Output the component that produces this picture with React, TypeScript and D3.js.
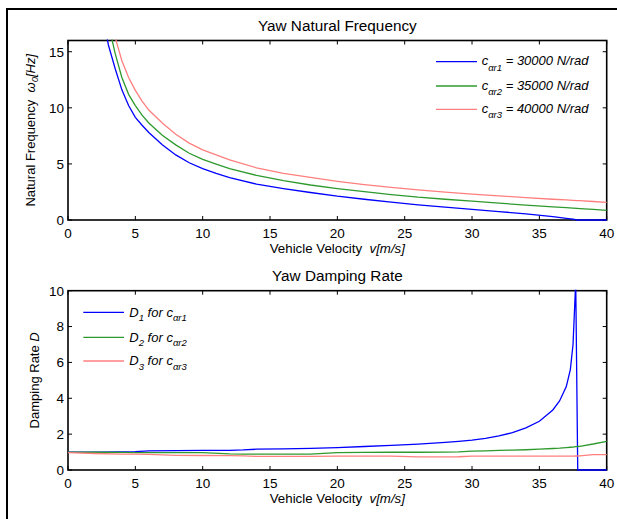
import React from 'react';
import * as d3 from 'd3';

// ---------- data ----------
const velocityFreq = [2.5, 3, 3.5, 4, 4.5, 5, 5.5, 6, 7, 8, 9, 10, 11, 12, 14, 16, 18, 20, 22, 24, 26, 28, 30, 32, 34, 36, 37, 37.5, 37.8, 38, 39, 40];
const freqC1 = [18.8, 15.6, 13.5, 11.6, 10.2, 9.15, 8.45, 7.8, 6.7, 5.8, 5.1, 4.58, 4.15, 3.78, 3.2, 2.8, 2.45, 2.12, 1.85, 1.6, 1.35, 1.15, 0.95, 0.75, 0.55, 0.3, 0.15, 0.08, 0, 0, 0, 0];
const freqC2 = [22, 17.5, 14.85, 12.7, 11.2, 10.2, 9.35, 8.65, 7.55, 6.7, 5.95, 5.4, 4.98, 4.58, 3.98, 3.5, 3.12, 2.8, 2.52, 2.27, 2.03, 1.85, 1.68, 1.5, 1.33, 1.17, 1.1, 1.06, 1.04, 1.02, 0.94, 0.86];
const freqC3 = [25, 19.5, 16.3, 14.2, 12.7, 11.55, 10.6, 9.8, 8.65, 7.65, 6.85, 6.25, 5.8, 5.35, 4.65, 4.15, 3.8, 3.45, 3.15, 2.9, 2.68, 2.48, 2.3, 2.15, 2.0, 1.85, 1.79, 1.75, 1.73, 1.72, 1.65, 1.58];

const velocityDamp = [0, 2, 4, 5, 6, 8, 10, 12, 13, 14, 16, 18, 20, 22, 24, 26, 28, 29, 30, 31, 32, 33, 34, 35, 36, 36.5, 37, 37.3, 37.5, 37.7, 37.85, 38, 39, 40];
const dampD1 = [1.0, 1.0, 1.01, 1.02, 1.07, 1.08, 1.09, 1.1, 1.12, 1.16, 1.18, 1.21, 1.25, 1.31, 1.37, 1.44, 1.54, 1.6, 1.67, 1.76, 1.9, 2.08, 2.35, 2.72, 3.35, 3.85, 4.65, 5.6, 7.0, 10.5, 0, 0, 0, 0];
const dampD2 = [1.0, 0.99, 0.98, 0.97, 0.97, 0.97, 0.97, 0.9, 0.89, 0.89, 0.89, 0.89, 0.97, 0.98, 0.99, 0.99, 1.0, 1.01, 1.05, 1.07, 1.09, 1.11, 1.13, 1.16, 1.2, 1.22, 1.25, 1.27, 1.28, 1.3, 1.31, 1.32, 1.45, 1.6];
const dampD3 = [0.97, 0.92, 0.89, 0.88, 0.87, 0.82, 0.81, 0.8, 0.79, 0.76, 0.76, 0.76, 0.77, 0.77, 0.77, 0.73, 0.73, 0.74, 0.77, 0.77, 0.77, 0.77, 0.77, 0.77, 0.77, 0.77, 0.77, 0.77, 0.77, 0.78, 0.78, 0.79, 0.86, 0.86];

const xTicks = [0, 5, 10, 15, 20, 25, 30, 35, 40];
const freqTicks = [0, 5, 10, 15];
const dampTicks = [0, 2, 4, 6, 8, 10];
const stiffnessValues = ['30000', '35000', '40000'];
const seriesIndex = ['1', '2', '3'];
const seriesColors = ['#0000ff', '#2e9a2e', '#ff7f7f'];

const FONT = "'Liberation Sans', Arial, Helvetica, sans-serif";
const X0 = 68;
const X1 = 606.7;

type PanelProps = {
  id: string;
  top: number;
  bottom: number;
  yMax: number;
  yTicks: number[];
  xs: number[];
  series: number[][];
  title: string;
  children?: React.ReactNode;
};

function Panel({ id, top, bottom, yMax, yTicks, xs, series, title, children }: PanelProps) {
  const x = d3.scaleLinear().domain([0, 40]).range([X0, X1]);
  const y = d3.scaleLinear().domain([0, yMax]).range([bottom, top]);
  const tickLen = 4;
  return (
    <g>
      <defs>
        <clipPath id={id}>
          <rect x={X0 - 1} y={top - 1} width={X1 - X0 + 2} height={bottom - top + 2} />
        </clipPath>
      </defs>
      <text x={(X0 + X1) / 2} y={top - 10} textAnchor="middle" fontSize={15.3} fontFamily={FONT} fill="#000">
        {title}
      </text>
      {/* ticks */}
      {xTicks.map((t) => (
        <g key={'x' + t}>
          <line x1={x(t)} x2={x(t)} y1={bottom} y2={bottom - tickLen} stroke="#000" strokeWidth={1} />
          <line x1={x(t)} x2={x(t)} y1={top} y2={top + tickLen} stroke="#000" strokeWidth={1} />
          <text x={x(t)} y={bottom + 17.5} textAnchor="middle" fontSize={13.5} fontFamily={FONT} fill="#000">
            {t}
          </text>
        </g>
      ))}
      {yTicks.map((t) => (
        <g key={'y' + t}>
          <line x1={X0} x2={X0 + tickLen} y1={y(t)} y2={y(t)} stroke="#000" strokeWidth={1} />
          <line x1={X1} x2={X1 - tickLen} y1={y(t)} y2={y(t)} stroke="#000" strokeWidth={1} />
          <text x={64} y={y(t) + 4.8} textAnchor="end" fontSize={13.5} fontFamily={FONT} fill="#000">
            {t}
          </text>
        </g>
      ))}
      <rect x={X0} y={top} width={X1 - X0} height={bottom - top} fill="none" stroke="#000" strokeWidth={1.6} />
      <g clipPath={`url(#${id})`}>
        {series.map((vals, i) => {
          const line = d3
            .line<number>()
            .x((_, j) => x(xs[j]))
            .y((d) => y(d));
          return <path key={i} d={line(vals) || ''} fill="none" stroke={seriesColors[i]} strokeWidth={1.3} />;
        })}
      </g>
      <text x={(X0 + X1) / 2} y={bottom + 33} textAnchor="middle" fontSize={13.3} fontFamily={FONT} fill="#000">
        {'Vehicle Velocity\u00a0 '}
        <tspan fontStyle="italic">v[m/s]</tspan>
      </text>
      {children}
    </g>
  );
}

export default function App() {
  const topTop = 40.5;
  const topBottom = 220;
  const botTop = 290.7;
  const botBottom = 470;
  const legendTopYs = [61.7, 86, 109.3];
  const legendBotYs = [312.3, 337.3, 361];
  return (
    <svg
      width={617}
      height={519}
      viewBox="0 0 617 519"
      style={{ position: 'absolute', left: 0, top: 0, background: '#fff' }}
    >
      <rect x={0} y={0} width={617} height={519} fill="#fff" />
      <line x1={6} y1={9} x2={617} y2={9} stroke="#000" strokeWidth={2} />
      <line x1={7} y1={8} x2={7} y2={519} stroke="#000" strokeWidth={2} />

      <Panel
        id="clipTop"
        top={topTop}
        bottom={topBottom}
        yMax={16}
        yTicks={freqTicks}
        xs={velocityFreq}
        series={[freqC1, freqC2, freqC3]}
        title="Yaw Natural Frequency"
      >
        <text
          transform={`translate(34.7, ${(topTop + topBottom) / 2}) rotate(-90)`}
          textAnchor="middle"
          fontSize={13}
          fontFamily={FONT}
          fill="#000"
        >
          {'Natural Frequency\u00a0 '}
          <tspan fontStyle="italic">ω</tspan>
          <tspan fontStyle="italic" fontSize={9.5} dy={3}>0</tspan>
          <tspan fontStyle="italic" dy={-3}>[Hz]</tspan>
        </text>
        {legendTopYs.map((ly, i) => (
          <g key={i}>
            <line x1={436} x2={477} y1={ly} y2={ly} stroke={seriesColors[i]} strokeWidth={1.3} />
            <text x={481.7} y={ly + 3.5} fontSize={13} fontFamily={FONT} fontStyle="italic" fill="#000">
              c
              <tspan fontSize={9.5} dy={5.5}>{'αr' + seriesIndex[i]}</tspan>
              <tspan dy={-5.5}>{' = ' + stiffnessValues[i] + ' N/rad'}</tspan>
            </text>
          </g>
        ))}
      </Panel>

      <Panel
        id="clipBot"
        top={botTop}
        bottom={botBottom}
        yMax={10}
        yTicks={dampTicks}
        xs={velocityDamp}
        series={[dampD1, dampD2, dampD3]}
        title="Yaw Damping Rate"
      >
        <text
          transform={`translate(39, ${(botTop + botBottom) / 2}) rotate(-90)`}
          textAnchor="middle"
          fontSize={13}
          fontFamily={FONT}
          fill="#000"
        >
          {'Damping Rate '}
          <tspan fontStyle="italic">D</tspan>
        </text>
        {legendBotYs.map((ly, i) => (
          <g key={i}>
            <line x1={83.3} x2={124} y1={ly} y2={ly} stroke={seriesColors[i]} strokeWidth={1.3} />
            <text x={129.3} y={ly + 4.4} fontSize={13} fontFamily={FONT} fontStyle="italic" fill="#000">
              D
              <tspan fontSize={9.5} dy={4.5}>{seriesIndex[i]}</tspan>
              <tspan dy={-4.5}>{' for c'}</tspan>
              <tspan fontSize={9.5} dy={4.5}>{'αr' + seriesIndex[i]}</tspan>
            </text>
          </g>
        ))}
      </Panel>
    </svg>
  );
}
